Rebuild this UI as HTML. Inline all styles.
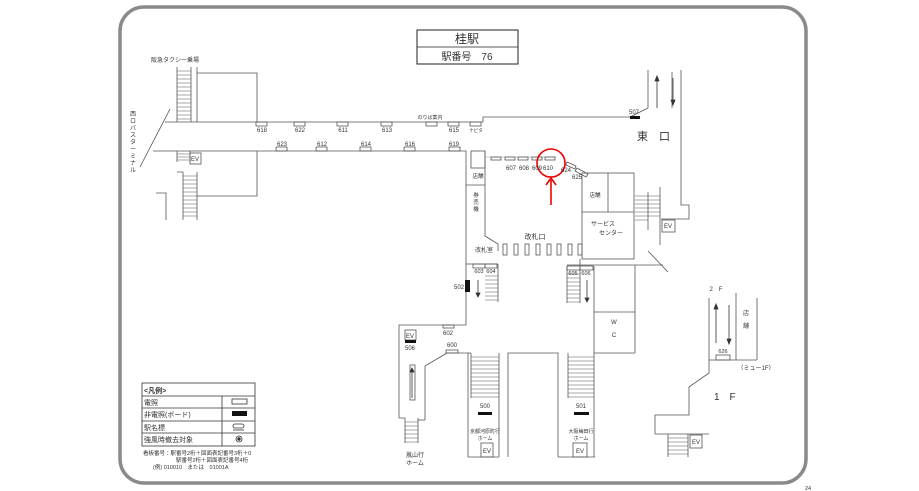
<!DOCTYPE html>
<html><head><meta charset="utf-8">
<style>
html,body{margin:0;padding:0;background:#fff;}
svg{display:block;}
text{font-family:"Liberation Sans","Noto Sans CJK JP",sans-serif;fill:#333;}
</style></head>
<body>
<svg width="919" height="491" viewBox="0 0 919 491" xmlns="http://www.w3.org/2000/svg">
<g fill="none" stroke="#444" stroke-width="0.8">
<!-- outer border -->
<rect x="120" y="7" width="686" height="476" rx="24" stroke="#8a8a8a" stroke-width="3.5"/>
</g>
<!-- title -->
<rect x="417" y="30" width="101" height="34" fill="#fff" stroke="#222" stroke-width="1"/>
<line x1="417" y1="47" x2="518" y2="47" stroke="#222" stroke-width="0.8"/>
<text x="467" y="43" font-size="12" text-anchor="middle" fill="#111">桂駅</text>
<text x="467" y="60" font-size="10" text-anchor="middle" fill="#111">駅番号　76</text>

<g fill="none" stroke="#555" stroke-width="0.8">
<!-- main corridor -->
<polyline points="165,122 483,122 483,117 630,117 648,108 648,70"/>
<polyline points="681,70 681,205 689,205 689,219 661,219"/>
<polyline points="153,151 466,151 466,325 399,325 399,418 405,418 405,443"/>
<line x1="170" y1="109" x2="140" y2="167"/>
<!-- top-left stairs & box -->
<line x1="177" y1="67" x2="177" y2="122"/><line x1="191" y1="67" x2="191" y2="122"/>
<line x1="197" y1="67" x2="197" y2="122"/>
<polyline points="197,73 257,73 257,122"/>
<polyline points="257,151 257,196 197,196"/>
<line x1="177" y1="151" x2="177" y2="162"/><line x1="190" y1="151" x2="190" y2="162"/>
<rect x="190" y="153" width="11" height="11"/>
<polyline points="177,172 183,172 183,220"/><line x1="197" y1="172" x2="197" y2="220"/>
<polyline points="156,193 166,193 166,220"/>
<!-- right of corridor: shop/ticket column -->
<rect x="471" y="151" width="14" height="17"/>
<line x1="466" y1="185" x2="485" y2="185"/>
<polyline points="485,151 485,236 498,244 498,251"/>
<line x1="466" y1="264" x2="498" y2="264"/>
<rect x="473" y="264" width="12" height="4"/><rect x="485" y="264" width="12" height="4"/>
<line x1="498" y1="264" x2="498" y2="302"/>
<!-- signs row 607-610 -->
<line x1="485" y1="157" x2="556" y2="157" stroke="#bbb"/>
<rect x="491" y="157" width="10" height="3"/><rect x="505" y="157" width="10" height="3"/>
<rect x="518" y="157" width="10" height="3"/><rect x="532" y="157" width="10" height="3"/>
<rect x="545" y="157" width="10" height="3"/>
<polygon points="567,162 576,166 575,169 566,165"/>
<polygon points="577,168 588,174 586,177 575,171"/>
<!-- right block -->
<rect x="582" y="173" width="52" height="86"/>
<line x1="608" y1="173" x2="608" y2="212"/><line x1="582" y1="212" x2="634" y2="212"/>
<line x1="660" y1="187" x2="660" y2="245"/>
<line x1="648" y1="192" x2="648" y2="230"/>
<rect x="662" y="220" width="13" height="12"/>
<line x1="648" y1="251" x2="668" y2="272"/>
<line x1="567" y1="265" x2="663" y2="265"/>
<line x1="580" y1="259" x2="580" y2="265"/>
<!-- gates -->
<rect x="503" y="244" width="4" height="11"/><rect x="514" y="244" width="4" height="11"/>
<rect x="525" y="244" width="4" height="11"/><rect x="536" y="244" width="4" height="11"/>
<rect x="547" y="244" width="4" height="11"/><rect x="557" y="244" width="4" height="11"/>
<rect x="568" y="244" width="4" height="11"/><rect x="578" y="244" width="4" height="11"/>
<!-- 605/606 -->
<rect x="567" y="266" width="13" height="4"/><rect x="580" y="266" width="13" height="4"/>
<line x1="567" y1="266" x2="567" y2="303"/><line x1="580" y1="270" x2="580" y2="303"/>
<line x1="594" y1="266" x2="594" y2="457"/>
<line x1="635" y1="265" x2="635" y2="353"/>
<line x1="594" y1="312" x2="635" y2="312"/><line x1="594" y1="353" x2="635" y2="353"/>
<!-- 501 area -->
<line x1="568" y1="353" x2="568" y2="398"/>
<polyline points="508,457 508,353 558,353 558,457"/>
<line x1="558" y1="457" x2="595" y2="457"/>
<rect x="573" y="443" width="14" height="14"/>
<!-- 500 area -->
<line x1="468" y1="353" x2="468" y2="457"/><line x1="499" y1="353" x2="499" y2="457"/>
<line x1="471" y1="353" x2="471" y2="398"/>
<line x1="446" y1="353" x2="471" y2="353"/>
<line x1="468" y1="457" x2="499" y2="457"/>
<rect x="481" y="443" width="12" height="14"/>
<!-- left platform -->
<polyline points="425,420 425,366 447,353"/>
<rect x="446" y="350" width="12" height="3"/>
<rect x="443" y="325" width="11" height="3"/>
<rect x="405" y="330" width="11" height="10"/>
<line x1="418" y1="418" x2="418" y2="443"/><line x1="425" y1="420" x2="418" y2="420"/>
<rect x="410" y="365" width="5" height="35"/>
<!-- top right escalators -->
<line x1="672" y1="72" x2="672" y2="108"/>
<!-- 2F area -->
<line x1="709" y1="298" x2="709" y2="360"/>
<line x1="736" y1="293" x2="736" y2="360"/>
<line x1="757" y1="298" x2="757" y2="360"/>
<line x1="709" y1="360" x2="757" y2="360"/>
<rect x="716" y="355" width="14" height="5"/>
<polyline points="709,360 709,373 689,387 689,415 655,415 655,434 709,434"/>
<line x1="668" y1="434" x2="668" y2="457"/><line x1="688" y1="434" x2="688" y2="457"/>
<rect x="690" y="435" width="12" height="13"/>
<!-- top signs -->
<rect x="256" y="122" width="11" height="4"/><rect x="294" y="122" width="11" height="4"/>
<rect x="337" y="122" width="11" height="4"/><rect x="381" y="122" width="11" height="4"/>
<rect x="426" y="122" width="11" height="4"/><rect x="448" y="122" width="11" height="4"/>
<rect x="470" y="122" width="11" height="4"/>
<rect x="276" y="147" width="11" height="4"/><rect x="316" y="147" width="11" height="4"/>
<rect x="360" y="147" width="11" height="4"/><rect x="404" y="147" width="11" height="4"/>
<rect x="449" y="147" width="11" height="4"/>
</g>
<!-- stair treads -->
<g stroke="#555" stroke-width="0.6">
<path d="M177 71h14M177 75h14M177 79h14M177 83h14M177 87h14M177 91h14M177 95h14M177 99h14M177 103h14M177 107h14M177 111h14M177 115h14M177 119h14"/>
<path d="M177 154h13M177 157h13M177 160h13"/>
<path d="M183 176h14M183 180h14M183 184h14M183 188h14M183 192h14M183 196h14M183 200h14M183 204h14M183 208h14M183 212h14M183 216h14"/>
<path d="M485 276h13M485 280h13M485 284h13M485 288h13M485 292h13M485 296h13M485 300h13"/>
<path d="M567 274h13M567 278h13M567 282h13M567 286h13M567 290h13M567 294h13M567 298h13M567 302h13"/>
<path d="M635 196h25M635 200h25M635 204h25M635 208h25M635 212h25M635 216h25M635 220h13"/>
<path d="M471 357h28M471 361h28M471 365h28M471 369h28M471 373h28M471 377h28M471 381h28M471 385h28M471 389h28M471 393h28M471 397h28"/>
<path d="M568 357h26M568 361h26M568 365h26M568 369h26M568 373h26M568 377h26M568 381h26M568 385h26M568 389h26M568 393h26M568 397h26"/>
<path d="M405 422h13M405 426h13M405 430h13M405 434h13M405 438h13M405 442h13"/>
<path d="M668 438h20M668 442h20M668 446h20M668 450h20M668 454h20"/>
</g>
<!-- black boards -->
<g fill="#111">
<rect x="630" y="116" width="10" height="3"/>
<rect x="465" y="280" width="5" height="12"/>
<rect x="405" y="340" width="11" height="3"/>
<rect x="478" y="412" width="14" height="3"/>
<rect x="574" y="412" width="15" height="3"/>
</g>
<!-- arrows -->
<g stroke="#333" stroke-width="0.8" fill="#333">
<line x1="657" y1="80" x2="657" y2="108"/><polygon points="655,81 659,81 657,76"/>
<line x1="673" y1="78" x2="673" y2="100"/><polygon points="671,100 675,100 673,105"/>
<line x1="478" y1="280" x2="478" y2="293"/><polygon points="476,293 480,293 478,297"/>
<line x1="587" y1="280" x2="587" y2="298"/><polygon points="585,298 589,298 587,302"/>
<line x1="412" y1="372" x2="412" y2="398"/><polygon points="410,372 414,372 412,368"/>
<line x1="716" y1="309" x2="716" y2="343"/><polygon points="714,309 718,309 716,304"/>
<line x1="729" y1="305" x2="729" y2="339"/><polygon points="727,339 731,339 729,344"/>
</g>
<!-- red mark -->
<circle cx="551" cy="163" r="14" fill="none" stroke="#e00" stroke-width="1.6"/>
<line x1="551" y1="205" x2="551" y2="180" stroke="#e00" stroke-width="1.6"/>
<polyline points="546,185 551,178 556,185" fill="none" stroke="#e00" stroke-width="1.6"/>

<!-- labels -->
<g font-size="6" text-anchor="middle">
<text x="175" y="62">阪急タクシー乗場</text>
<text x="262" y="132">618</text><text x="300" y="132">622</text><text x="343" y="132">611</text>
<text x="387" y="132">613</text><text x="454" y="132">615</text><text x="476" y="132" font-size="4.5">ナビタ</text>
<text x="430" y="119" font-size="5">のりば案内</text>
<text x="282" y="146">623</text><text x="322" y="146">612</text><text x="366" y="146">614</text>
<text x="410" y="146">616</text><text x="454" y="146">619</text>
<text x="195" y="161">EV</text>
<text x="511" y="170">607</text><text x="524" y="170">608</text><text x="537" y="170">609</text><text x="548" y="170">610</text>
<text x="566" y="172">624</text><text x="577" y="179">625</text>
<text x="634" y="114">507</text>
<text x="478" y="178" font-size="5.5">店舗</text>
<text x="476" y="197" font-size="5.5">券</text><text x="476" y="204" font-size="5.5">売</text><text x="476" y="211" font-size="5.5">機</text>
<text x="484" y="252" font-size="6">改札室</text>
<text x="535" y="239" font-size="7">改札口</text>
<text x="595" y="197" font-size="5.5">店舗</text>
<text x="603" y="226" font-size="6">サービス</text><text x="611" y="235" font-size="6">センター</text>
<text x="668" y="228">EV</text>
<text x="479" y="273" font-size="5.5">603</text><text x="491" y="273" font-size="5.5">604</text>
<text x="573" y="275" font-size="5.5">605</text><text x="586" y="275" font-size="5.5">606</text>
<text x="459" y="289">502</text>
<text x="614" y="324">W</text><text x="614" y="337">C</text>
<text x="448" y="335">602</text><text x="410" y="338">EV</text><text x="410" y="350">506</text>
<text x="452" y="347">600</text>
<text x="485" y="408">500</text><text x="581" y="408">501</text>
<text x="485" y="433" font-size="5">京都河原町行</text><text x="485" y="440" font-size="5">ホーム</text>
<text x="581" y="433" font-size="5">大阪梅田行</text><text x="581" y="440" font-size="5">ホーム</text>
<text x="487" y="453">EV</text><text x="580" y="453">EV</text>
<text x="415" y="457">嵐山行</text><text x="415" y="465">ホーム</text>
<text x="716" y="291">2　F</text>
<text x="746" y="315">店</text><text x="746" y="328">舗</text>
<text x="723" y="353" font-size="5.5">626</text>
<text x="756" y="370">（ミュー1F）</text>
<text x="696" y="444">EV</text>
<text x="808" y="490" font-size="5.5">24</text>
</g>
<g font-size="6" text-anchor="middle">
<text x="133" y="116">西</text><text x="133" y="123">ロ</text><text x="133" y="130">バ</text><text x="133" y="137">ス</text>
<text x="133" y="144">タ</text><text x="133" y="151">ー</text><text x="133" y="158">ミ</text><text x="133" y="165">ナ</text><text x="133" y="172">ル</text>
</g>
<text x="637" y="140" font-size="11" fill="#222">東　口</text>
<text x="714" y="400" font-size="10" fill="#222">1　F</text>

<!-- legend -->
<g fill="none" stroke="#333" stroke-width="0.8">
<rect x="142" y="383" width="113" height="63"/>
<line x1="142" y1="396" x2="255" y2="396"/><line x1="142" y1="408" x2="255" y2="408"/>
<line x1="142" y1="421" x2="255" y2="421"/><line x1="142" y1="433" x2="255" y2="433"/>
<line x1="222" y1="396" x2="222" y2="446"/>
<rect x="232" y="399" width="15" height="5"/>
<rect x="233" y="424" width="11" height="4" rx="2"/>
<line x1="233" y1="430" x2="244" y2="430"/>
<circle cx="239" cy="439" r="3"/><circle cx="239" cy="439" r="1.3" fill="#333"/>
</g>
<rect x="232" y="411" width="15" height="5" fill="#111"/>
<g font-size="7" fill="#111">
<text x="144" y="393" font-weight="bold">&lt;凡例&gt;</text>
<text x="144" y="405">電照</text>
<text x="144" y="417">非電照(ボード)</text>
<text x="144" y="430">駅名標</text>
<text x="144" y="442">強風時撤去対象</text>
</g>
<g font-size="5.5" fill="#333">
<text x="143" y="455">看板番号：駅番号2桁＋図面表記番号3桁＋0</text>
<text x="176" y="462">駅番号2桁＋図面表記番号4桁</text>
<text x="153" y="469">(例) 010010　または　01001A</text>
</g>
</svg>
</body></html>
